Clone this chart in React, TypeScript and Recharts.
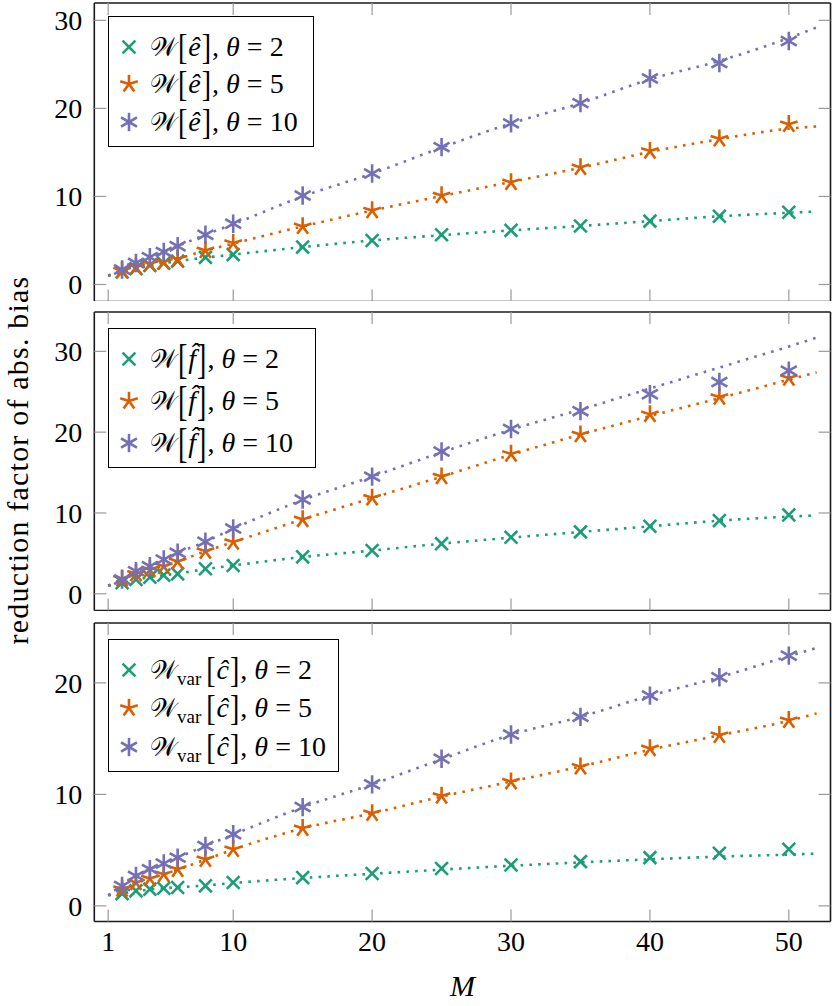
import React from 'react';
import { ComposedChart, Line, Scatter, XAxis, YAxis, Legend } from 'recharts';

// ---------- data ----------
const markerM = [2, 3, 4, 5, 6, 8, 10, 15, 20, 25, 30, 35, 40, 45, 50];
const lineM = [1, 2, 3, 4, 5, 6, 8, 10, 15, 20, 25, 30, 35, 40, 45, 50, 52];
const xTicks = [1, 10, 20, 30, 40, 50];
const xDomain: [number, number] = [0, 53];

// panel 1: W[e^]
const eMark2 = [1.42, 1.8, 2.16, 2.42, 2.65, 3.08, 3.4, 4.25, 5.0, 5.65, 6.15, 6.65, 7.2, 7.75, 8.2];
const eMark5 = [1.58, 2.0, 2.35, 2.57, 2.9, 3.87, 4.7, 6.6, 8.4, 10.1, 11.6, 13.3, 15.15, 16.55, 18.2];
const eMark10 = [1.7, 2.45, 3.1, 3.7, 4.35, 5.65, 6.9, 10.1, 12.6, 15.6, 18.3, 20.6, 23.4, 25.15, 27.65];
const eLine2 = [1.0, 1.42, 1.8, 2.15, 2.42, 2.65, 3.05, 3.4, 4.25, 5.0, 5.6, 6.15, 6.65, 7.2, 7.75, 8.15, 8.3];
const eLine5 = [1.0, 1.55, 2.0, 2.35, 2.6, 2.95, 3.85, 4.65, 6.6, 8.4, 10.05, 11.65, 13.25, 15.05, 16.5, 17.7, 17.95];
const eLine10 = [1.0, 1.7, 2.45, 3.1, 3.7, 4.35, 5.65, 6.85, 10.0, 12.6, 15.55, 18.3, 20.6, 23.3, 25.4, 28.0, 29.2];
const eTicks = [0, 10, 20, 30];
const eDomain: [number, number] = [-1.93, 31.97];

// panel 2: W[f^]
const fMark2 = [1.36, 1.77, 2.05, 2.3, 2.47, 3.1, 3.5, 4.57, 5.35, 6.2, 7.0, 7.66, 8.36, 9.06, 9.76];
const fMark5 = [1.85, 2.47, 3.0, 3.4, 4.0, 5.27, 6.4, 9.2, 11.87, 14.5, 17.3, 19.7, 22.2, 24.35, 26.7];
const fMark10 = [1.77, 2.8, 3.4, 4.24, 5.07, 6.43, 8.07, 11.66, 14.5, 17.6, 20.4, 22.6, 24.7, 26.2, 27.6];
const fLine2 = [1.0, 1.36, 1.75, 2.05, 2.3, 2.5, 3.05, 3.5, 4.55, 5.35, 6.2, 6.95, 7.65, 8.35, 9.05, 9.55, 9.7];
const fLine5 = [1.0, 1.8, 2.45, 3.0, 3.45, 4.0, 5.25, 6.4, 9.2, 11.85, 14.5, 17.2, 19.7, 22.0, 24.2, 26.5, 27.4];
const fLine10 = [1.0, 1.8, 2.75, 3.45, 4.25, 5.05, 6.45, 8.05, 11.6, 14.5, 17.5, 20.3, 22.8, 25.4, 28.0, 30.6, 31.7];
const fTicks = [0, 10, 20, 30];
const fDomain: [number, number] = [-2.07, 34.87];

// panel 3: W_var[c^]
const cMark2 = [1.1, 1.35, 1.5, 1.58, 1.65, 1.8, 2.1, 2.54, 2.9, 3.35, 3.67, 3.97, 4.33, 4.72, 5.08];
const cMark5 = [1.5, 2.1, 2.45, 2.84, 3.29, 4.18, 5.08, 6.96, 8.3, 9.85, 11.14, 12.48, 14.12, 15.3, 16.65];
const cMark10 = [1.79, 2.69, 3.29, 3.8, 4.33, 5.37, 6.42, 8.86, 10.9, 13.2, 15.37, 16.95, 18.86, 20.5, 22.44];
const cLine2 = [0.95, 1.12, 1.33, 1.47, 1.58, 1.67, 1.83, 2.05, 2.5, 2.88, 3.25, 3.6, 3.9, 4.18, 4.42, 4.6, 4.69];
const cLine5 = [0.95, 1.5, 2.05, 2.45, 2.85, 3.25, 4.15, 5.05, 6.95, 8.3, 9.8, 11.15, 12.5, 14.0, 15.3, 16.6, 17.25];
const cLine10 = [0.95, 1.8, 2.7, 3.3, 3.8, 4.33, 5.37, 6.4, 8.85, 10.9, 13.15, 15.35, 16.95, 18.85, 20.5, 22.4, 23.13];
const cTicks = [0, 10, 20];
const cDomain: [number, number] = [-1.4, 25.37];

const thetas = ['2', '5', '10'];
const xLabel = 'M';
const yLabel = 'reduction factor of abs. bias';

// ---------- style ----------
const COLORS = ['#1b9e77', '#d95f02', '#7570b3'];
const FONT = '"Liberation Serif", "DejaVu Serif", serif';
const TICK_GRAY = '#9a9a9a';
const FRAME = '#1a1a1a';

const toPts = (xs: number[], ys: number[]) => xs.map((M, i) => ({ M, v: ys[i] }));

const Marker = ({ kind, cx, cy, color }: { kind: number; cx: number; cy: number; color: string }) => {
  if (cx == null || cy == null) return null;
  if (kind === 0) {
    const r = 6.4;
    return (
      <g stroke={color} strokeWidth={2.6}>
        <line x1={cx - r} y1={cy - r} x2={cx + r} y2={cy + r} />
        <line x1={cx - r} y1={cy + r} x2={cx + r} y2={cy - r} />
      </g>
    );
  }
  const r = 9.2;
  const n = kind === 1 ? 5 : 6;
  const arms = [];
  for (let k = 0; k < n; k++) {
    const a = -Math.PI / 2 + (2 * Math.PI * k) / n;
    arms.push(<line key={k} x1={cx} y1={cy} x2={cx + r * Math.cos(a)} y2={cy + r * Math.sin(a)} />);
  }
  return (
    <g stroke={color} strokeWidth={2.6} strokeLinecap="butt">
      {arms}
    </g>
  );
};

const Bracket = ({ ch, scale }: { ch: string; scale: number }) => (
  <span style={{ display: 'inline-block', transform: `scaleY(${scale})`, fontStyle: 'normal', margin: '0 1px' }}>{ch}</span>
);

const LegendLabel = ({ letter, sub, theta, scale }: { letter: string; sub: boolean; theta: string; scale: number }) => (
  <span style={{ fontFamily: FONT, fontSize: 28, whiteSpace: 'nowrap', color: '#000' }}>
    <span style={{ fontFamily: '"DejaVu Serif", "DejaVu Sans", serif', fontSize: 26 }}>𝒲</span>
    {sub ? (
      <span style={{ fontSize: 19, position: 'relative', top: 6, marginRight: 4 }}>var</span>
    ) : null}
    <Bracket ch="[" scale={scale} />
    <i>{letter}</i>
    <Bracket ch="]" scale={scale} />
    {', '}
    <i>θ</i>
    {' = '}
    {theta}
  </span>
);

const makeLegend = (letter: string, sub: boolean, rowH: number, boxW: number, scale: number) => () => (
  <div
    style={{
      border: '1.6px solid #000',
      background: '#fff',
      padding: `${30 - rowH / 2}px 0 ${24 - rowH / 2}px 8px`,
      width: boxW,
      boxSizing: 'border-box',
    }}
  >
    {thetas.map((t, i) => (
      <div key={t} style={{ display: 'flex', alignItems: 'center', height: rowH }}>
        <svg width={24} height={24} style={{ marginRight: 9, flex: 'none' }}>
          <Marker kind={i} cx={12} cy={12} color={COLORS[i]} />
        </svg>
        <LegendLabel letter={letter} sub={sub} theta={t} scale={scale} />
      </div>
    ))}
  </div>
);

type PanelProps = {
  top: number;
  yDomain: [number, number];
  yTicks: number[];
  marks: number[][];
  lines: number[][];
  letter: string;
  sub: boolean;
  legendTop: number;
  rowH: number;
  boxW: number;
  scale: number;
  showX: boolean;
};

const PLOT_H = 298.5;
const MT = 2;

const Panel = ({ top, yDomain, yTicks, marks, lines, letter, sub, legendTop, rowH, boxW, scale, showX }: PanelProps) => {
  const xLabH = showX ? 44 : 0;
  const axisTick = { fontFamily: FONT, fontSize: 28, fill: '#000' };
  return (
    <div style={{ position: 'absolute', left: 0, top: top - MT }}>
      <ComposedChart width={832} height={PLOT_H + MT + xLabH} margin={{ top: MT, right: 1.5, bottom: 0, left: 0 }}>
        <XAxis
          xAxisId="b"
          dataKey="M"
          type="number"
          domain={xDomain}
          ticks={xTicks}
          allowDataOverflow
          orientation="bottom"
          mirror
          tickSize={12}
          tickLine={{ stroke: TICK_GRAY, strokeWidth: 1.2 }}
          axisLine={{ stroke: FRAME, strokeWidth: 1.6 }}
          tickFormatter={() => ''}
        />
        <XAxis
          xAxisId="t"
          dataKey="M"
          type="number"
          domain={xDomain}
          ticks={xTicks}
          allowDataOverflow
          orientation="top"
          mirror
          tickSize={12}
          tickLine={{ stroke: TICK_GRAY, strokeWidth: 1.2 }}
          axisLine={{ stroke: FRAME, strokeWidth: 1.6 }}
          tickFormatter={() => ''}
        />
        {showX ? (
          <XAxis
            xAxisId="lab"
            dataKey="M"
            type="number"
            domain={xDomain}
            ticks={xTicks}
            allowDataOverflow
            orientation="bottom"
            height={xLabH}
            tickSize={0}
            tickMargin={10}
            tickLine={false}
            axisLine={false}
            tick={axisTick}
          />
        ) : null}
        <YAxis
          yAxisId="lab"
          dataKey="v"
          type="number"
          domain={yDomain}
          ticks={yTicks}
          allowDataOverflow
          orientation="left"
          width={94.3}
          tickSize={0}
          tickMargin={12}
          tickLine={false}
          axisLine={false}
          tick={axisTick}
        />
        <YAxis
          yAxisId="l"
          dataKey="v"
          type="number"
          domain={yDomain}
          ticks={yTicks}
          allowDataOverflow
          orientation="left"
          mirror
          tickSize={12}
          tickLine={{ stroke: TICK_GRAY, strokeWidth: 1.2 }}
          axisLine={{ stroke: FRAME, strokeWidth: 1.6 }}
          tickFormatter={() => ''}
        />
        <YAxis
          yAxisId="r"
          dataKey="v"
          type="number"
          domain={yDomain}
          ticks={yTicks}
          allowDataOverflow
          orientation="right"
          mirror
          tickSize={12}
          tickLine={{ stroke: TICK_GRAY, strokeWidth: 1.2 }}
          axisLine={{ stroke: FRAME, strokeWidth: 1.6 }}
          tickFormatter={() => ''}
        />
        {lines.map((ys, i) => (
          <Line
            key={'line' + i}
            xAxisId="b"
            yAxisId="l"
            data={toPts(lineM, ys)}
            dataKey="v"
            type="monotone"
            stroke={COLORS[i]}
            strokeWidth={2.6}
            strokeDasharray="2.6 6.2"
            dot={false}
            activeDot={false}
            isAnimationActive={false}
            legendType="none"
          />
        ))}
        {marks.map((ys, i) => (
          <Scatter
            key={'mark' + i}
            xAxisId="b"
            yAxisId="l"
            data={toPts(markerM, ys)}
            dataKey="v"
            fill={COLORS[i]}
            isAnimationActive={false}
            shape={(p: any) => <Marker kind={i} cx={p.cx} cy={p.cy} color={COLORS[i]} />}
          />
        ))}
        <Legend
          layout="vertical"
          align="center"
          verticalAlign="middle"
          content={makeLegend(letter, sub, rowH, boxW, scale)}
          wrapperStyle={{ left: 108, top: legendTop, width: 'auto', height: 'auto' }}
        />
      </ComposedChart>
    </div>
  );
};

export default function App() {
  return (
    <div style={{ position: 'absolute', left: 0, top: 0, width: 832, height: 1006, background: '#fff', overflow: 'hidden' }}>
      <Panel
        top={2.7}
        yDomain={eDomain}
        yTicks={eTicks}
        marks={[eMark2, eMark5, eMark10]}
        lines={[eLine2, eLine5, eLine10]}
        letter="ê"
        sub={false}
        legendTop={15.3}
        rowH={37.5}
        boxW={206}
        scale={1.3}
        showX={false}
      />
      <Panel
        top={312.3}
        yDomain={fDomain}
        yTicks={fTicks}
        marks={[fMark2, fMark5, fMark10]}
        lines={[fLine2, fLine5, fLine10]}
        letter="f̂"
        sub={false}
        legendTop={17.4}
        rowH={42}
        boxW={208}
        scale={1.5}
        showX={false}
      />
      <Panel
        top={623.3}
        yDomain={cDomain}
        yTicks={cTicks}
        marks={[cMark2, cMark5, cMark10]}
        lines={[cLine2, cLine5, cLine10]}
        letter="ĉ"
        sub={true}
        legendTop={17.7}
        rowH={38.5}
        boxW={231}
        scale={1.3}
        showX={true}
      />
      <div
        style={{
          position: 'absolute',
          left: 462.5 - 30,
          top: 968,
          width: 60,
          textAlign: 'center',
          fontFamily: FONT,
          fontStyle: 'italic',
          fontSize: 30,
          lineHeight: '36px',
        }}
      >
        {xLabel}
      </div>
      <div
        style={{
          position: 'absolute',
          left: 18 - 220,
          top: 460 - 18,
          width: 440,
          height: 36,
          lineHeight: '36px',
          textAlign: 'center',
          transform: 'rotate(-90deg)',
          fontFamily: FONT,
          fontSize: 30,
          letterSpacing: 1.2,
          whiteSpace: 'nowrap',
        }}
      >
        {yLabel}
      </div>
    </div>
  );
}
